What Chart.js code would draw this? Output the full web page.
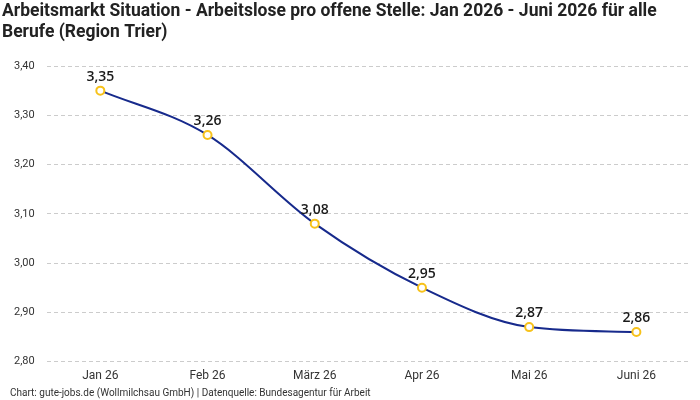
<!DOCTYPE html>
<html>
<head>
<meta charset="utf-8">
<script src="https://cdn.jsdelivr.net/npm/chart.js@4"></script>
<style>
  html, body { margin: 0; padding: 0; background: #fff; }
  #wrap { width: 700px; height: 400px; }
</style>
</head>
<body>
<div id="wrap"><canvas id="chart"></canvas></div>
<script>
const months = ["Jan 26", "Feb 26", "März 26", "Apr 26", "Mai 26", "Juni 26"];
const ratio = [3.35, 3.26, 3.08, 2.95, 2.87, 2.86];
const yMin = 2.8;
const yMax = 3.4;

const titleLines = [
  "Arbeitsmarkt Situation - Arbeitslose pro offene Stelle: Jan 2026 - Juni 2026 für alle",
  "Berufe (Region Trier)",
];
const sourceText = "Chart: gute-jobs.de (Wollmilchsau GmbH) | Datenquelle: Bundesagentur für Arbeit";

const fmt = (v) => v.toFixed(2).replace(".", ",");

// draws the value above every point
const valueLabels = {
  id: "valueLabels",
  afterDatasetsDraw(chart) {
    const ctx = chart.ctx;
    const meta = chart.getDatasetMeta(0);
    ctx.save();
    ctx.font = "600 14px 'Open Sans', sans-serif";
    ctx.fillStyle = "#1a1a1a";
    ctx.textAlign = "center";
    ctx.textBaseline = "bottom";
    meta.data.forEach((pt, i) => {
      ctx.fillText(fmt(ratio[i]), pt.x, pt.y - 7);
    });
    ctx.restore();
  },
};

// source line bottom left
const sourceLine = {
  id: "sourceLine",
  afterDraw(chart) {
    const ctx = chart.ctx;
    ctx.save();
    ctx.font = "10px 'Liberation Sans Narrow', 'Roboto', sans-serif";
    ctx.fillStyle = "#333";
    ctx.textBaseline = "middle";
    ctx.fillText(sourceText, 10, 393);
    ctx.restore();
  },
};

new Chart(document.getElementById("chart"), {
  type: "line",
  data: {
    labels: months,
    datasets: [
      {
        data: ratio,
        borderColor: "#172a8c",
        borderWidth: 2,
        cubicInterpolationMode: "monotone",
        pointRadius: 4,
        pointBorderWidth: 2,
        pointBackgroundColor: "#fff",
        pointBorderColor: "#f7c21b",
      },
    ],
  },
  options: {
    responsive: true,
    maintainAspectRatio: false,
    animation: false,
    layout: { padding: { left: 2, right: 10, top: 0, bottom: 10 } },
    plugins: {
      legend: { display: false },
      tooltip: { enabled: false },
      title: {
        display: true,
        text: titleLines,
        align: "start",
        color: "#222",
        font: { family: "'Liberation Sans Narrow', 'Roboto', sans-serif", size: 17.5, weight: "bold", lineHeight: 1.2 },
        padding: { top: 1, bottom: 23 },
      },
    },
    scales: {
      x: {
        offset: true,
        grid: { display: false, drawTicks: false },
        border: { display: false },
        ticks: { color: "#333", font: { family: "'Liberation Sans Narrow', 'Roboto', sans-serif", size: 12 }, padding: 7 },
      },
      y: {
        min: yMin,
        max: yMax,
        border: { display: false, dash: [4, 3] },
        grid: { color: "#cccccc", drawTicks: false },
        ticks: {
          stepSize: 0.1,
          padding: 12,
          color: "#333",
          font: { family: "'Roboto', sans-serif", size: 11 },
          callback: (v) => fmt(v),
        },
      },
    },
  },
  plugins: [valueLabels, sourceLine],
});
</script>
</body>
</html>
